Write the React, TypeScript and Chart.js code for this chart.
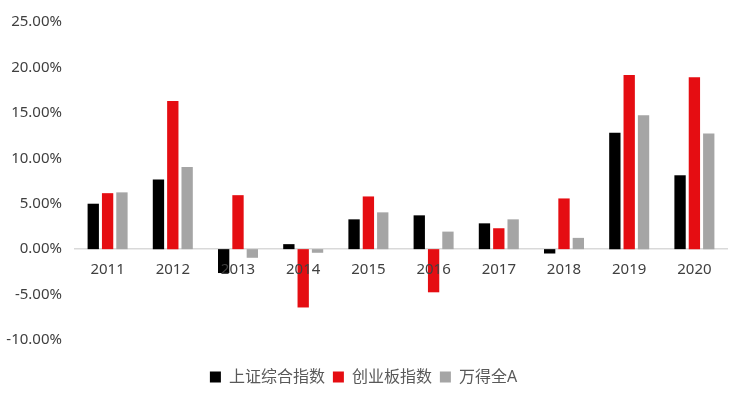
import React, { useEffect, useRef } from "react";
import { Chart, registerables } from "chart.js";

Chart.register(...registerables);

const categories = ["2011", "2012", "2013", "2014", "2015", "2016", "2017", "2018", "2019", "2020"];
const seriesNames = ["上证综合指数", "创业板指数", "万得全A"];
const shComposite = [5.0, 7.66, -2.63, 0.55, 3.28, 3.72, 2.84, -0.48, 12.8, 8.13];
const chinext = [6.16, 16.3, 5.94, -6.42, 5.8, -4.75, 2.3, 5.58, 19.18, 18.93];
const windAllA = [6.25, 9.04, -0.95, -0.4, 4.05, 1.93, 3.28, 1.24, 14.73, 12.73];
const yTicks = [-10, -5, 0, 5, 10, 15, 20, 25];

const colors = ["#000000", "#e50d12", "#a5a5a5"];
const FONT = '"Noto Sans", "Noto Sans CJK SC", sans-serif';

export default function App() {
  const ref = useRef<HTMLCanvasElement | null>(null);

  useEffect(() => {
    document.body.style.margin = "0";
    const canvas = ref.current;
    if (!canvas) return;
    const chart = new Chart(canvas, {
      type: "bar",
      data: {
        labels: categories,
        datasets: [shComposite, chinext, windAllA].map((d, i) => ({
          label: seriesNames[i],
          data: d,
          backgroundColor: colors[i],
          borderWidth: 0,
          categoryPercentage: 0.66,
          barPercentage: 0.79,
        })),
      },
      options: {
        responsive: false,
        animation: false,
        devicePixelRatio: 1,
        layout: { padding: { top: 20, right: 23, bottom: 7, left: 0 } },
        plugins: {
          tooltip: { enabled: false },
          legend: {
            position: "bottom",
            title: { display: true, text: "", font: { size: 10 }, padding: { top: 0, bottom: 9 } },
            labels: {
              boxWidth: 11,
              boxHeight: 11,
              padding: 8,
              color: "#595959",
              font: { family: FONT, size: 16 },
            },
          },
        },
        scales: {
          x: {
            position: { y: 0 } as any,
            grid: { display: false, drawTicks: false },
            border: { display: true, color: "#d9d9d9", width: 1.5 },
            ticks: { z: 1, color: "#404040", font: { family: FONT, size: 15 }, padding: 12, maxRotation: 0 },
          },
          y: {
            min: -10,
            max: 25,
            afterBuildTicks: (scale: any) => {
              scale.ticks = yTicks.map((v) => ({ value: v }));
            },
            afterFit: (scale: any) => {
              scale.width = 75;
            },
            grid: { display: false, drawTicks: false },
            border: { display: false },
            ticks: {
              color: "#404040",
              font: { family: FONT, size: 15 },
              padding: 13,
              callback: (v: any) => Number(v).toFixed(2) + "%",
            },
          },
        },
      },
    });
    return () => chart.destroy();
  }, []);

  return (
    <div style={{ width: 750, height: 402, background: "#ffffff" }}>
      <canvas ref={ref} width={750} height={402} />
    </div>
  );
}
